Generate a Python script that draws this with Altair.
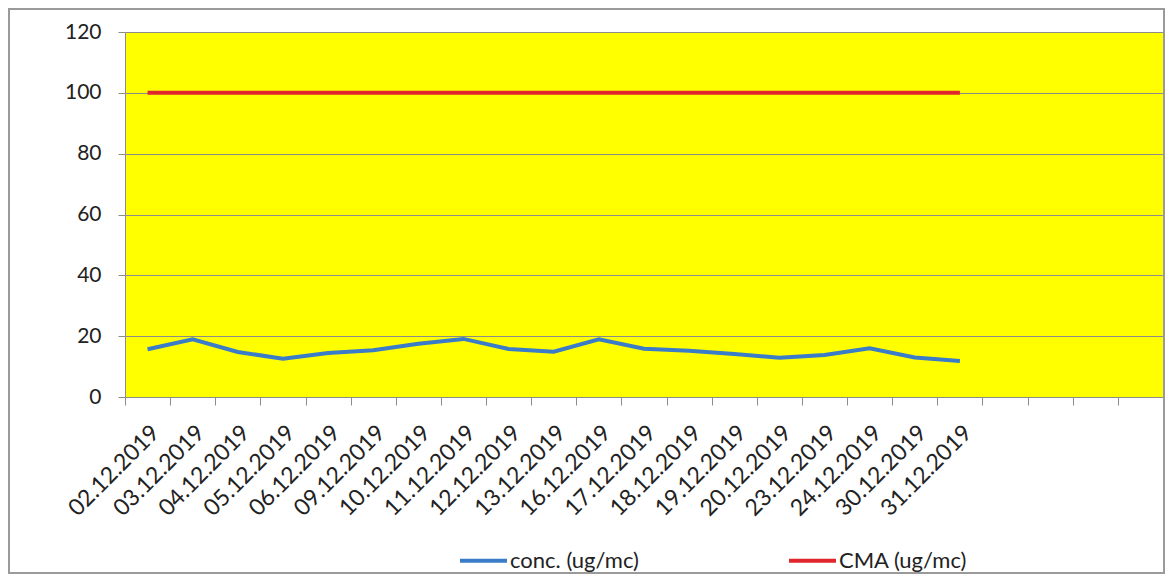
import altair as alt
import pandas as pd

# ---- data ----
dates = ["02.12.2019", "03.12.2019", "04.12.2019", "05.12.2019", "06.12.2019",
         "09.12.2019", "10.12.2019", "11.12.2019", "12.12.2019", "13.12.2019",
         "16.12.2019", "17.12.2019", "18.12.2019", "19.12.2019", "20.12.2019",
         "23.12.2019", "24.12.2019", "30.12.2019", "31.12.2019"]
conc = [15.7, 19.0, 14.8, 12.6, 14.5, 15.4, 17.5, 19.1, 15.8, 14.9,
        19.0, 15.9, 15.2, 14.1, 12.9, 13.8, 16.0, 13.0, 11.8]
cma = [100, 100, 100, 100, 100, 100, 100, 100, 100, 100,
       100, 100, 100, 100, 100, 100, 100, 100, 100]
empty_slots = [" ", "  ", "   ", "    "]  # empty categories at the right end
series_names = ["conc. (ug/mc)", "CMA (ug/mc)"]
y_ticks = [0, 20, 40, 60, 80, 100, 120]

rows = []
for d, v in zip(dates, conc):
    rows.append({"date": d, "value": v, "series": series_names[0]})
for d, v in zip(dates, cma):
    rows.append({"date": d, "value": v, "series": series_names[1]})
df = pd.DataFrame(rows)

FONT = "Lato"
GRAY = "#8c8c8c"
BLUE = "#3a7cc8"
RED = "#e0262d"

lines = alt.Chart(df).mark_line(strokeWidth=4).encode(
    x=alt.X(
        "date:N",
        sort=None,
        scale=alt.Scale(type="band", domain=dates + empty_slots,
                        paddingInner=0, paddingOuter=0),
        axis=alt.Axis(
            title=None, grid=False, tickBand="extent",
            labelAngle=-45, labelAlign="right", labelBaseline="top",
            labelPadding=16, tickSize=8, tickColor=GRAY, domainColor=GRAY,
            labelFont=FONT, labelFontSize=23, labelColor="#222222",
            labelOverlap=False,
        ),
    ),
    y=alt.Y(
        "value:Q",
        scale=alt.Scale(domain=[0, 120], nice=False),
        axis=alt.Axis(
            title=None, values=y_ticks, grid=True, gridColor=GRAY,
            tickSize=7, tickColor=GRAY, domainColor=GRAY, labelPadding=17,
            labelFont=FONT, labelFontSize=21, labelColor="#222222",
        ),
    ),
    color=alt.Color(
        "series:N",
        sort=series_names,
        scale=alt.Scale(domain=series_names, range=[BLUE, RED]),
        legend=alt.Legend(
            title=None, orient="none", legendX=333, legendY=503,
            direction="horizontal", symbolType="stroke", symbolSize=2209,
            symbolStrokeWidth=4, labelFont=FONT, labelFontSize=22,
            labelColor="#222222", labelOffset=1, columnPadding=142,
        ),
    ),
)

border = alt.Chart(alt.Data(values=[{"a": 1}])).mark_rect(
    fillOpacity=0, stroke="#9a9a9a", strokeWidth=2
).encode(
    x=alt.value(-116), x2=alt.value(1039), y=alt.value(-23), y2=alt.value(541)
)

chart = alt.layer(lines, border).properties(
    width=1038,
    height=365,
    autosize=alt.AutoSizeParams(type="none"),
    padding={"left": 117, "top": 24, "right": 2, "bottom": 177},
    background="white",
).configure_view(fill="#FFFF00", stroke="transparent")

chart.save("out.html", embed_options={"renderer": "svg", "actions": False})
